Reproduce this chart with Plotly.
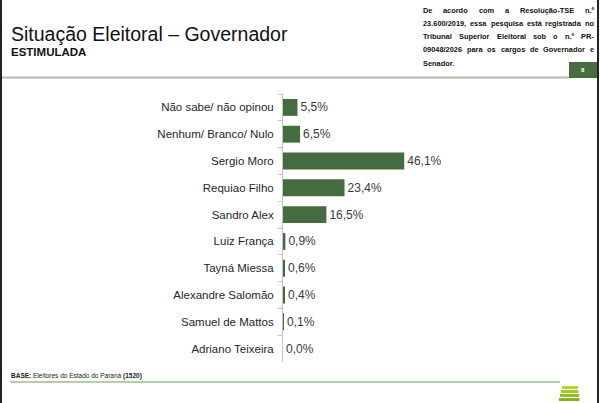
import plotly.graph_objects as go

# dados da pesquisa estimulada
candidatos = ['Não sabe/ não opinou', 'Nenhum/ Branco/ Nulo', 'Sergio Moro',
              'Requiao Filho', 'Sandro Alex', 'Luiz França', 'Tayná Miessa',
              'Alexandre Salomão', 'Samuel de Mattos', 'Adriano Teixeira']
percentuais = [5.5, 6.5, 46.1, 23.4, 16.5, 0.9, 0.6, 0.4, 0.1, 0.0]
rotulos = [f'{v:.1f}%'.replace('.', ',') for v in percentuais]

titulo = 'Situação Eleitoral – Governador'
subtitulo = 'ESTIMULADA'
nota_tse = ['De acordo com a Resolução-TSE n.º',
            '23.600/2019, essa pesquisa está registrada no',
            'Tribunal Superior Eleitoral sob o n.º PR-',
            '09048/2026 para os cargos de Governador e',
            'Senador.']
base = '<b>BASE:</b> Eleitores do Estado do Paraná <b>(1520)</b>'
pagina = '8'

W, H = 600, 403
ML, MR, MT, MB = 283, 100, 94, 41
PW, PH = W - ML - MR, H - MT - MB
FONT = 'Liberation Sans, Arial, sans-serif'
VERDE = '#456b40'

# larguras (1/1000 em) de Arial Bold, para justificar a nota do TSE
LARG = dict(zip('0123456789', [556] * 10))
LARG.update({' ': 278, '.': 278, ',': 278, '/': 278, '-': 333, 'º': 365,
             'a': 556, 'b': 611, 'c': 556, 'd': 611, 'e': 556, 'f': 333, 'g': 611,
             'h': 611, 'i': 278, 'l': 278, 'm': 889, 'n': 611, 'o': 611, 'p': 611,
             'q': 611, 'r': 389, 's': 556, 't': 333, 'u': 611, 'v': 556, 'ç': 556,
             'ã': 556, 'á': 556, 'D': 722, 'E': 667, 'G': 778, 'P': 667, 'R': 722,
             'S': 667, 'T': 611})


def largura(txt, tam):
    return sum(LARG.get(c, 600) for c in txt) * tam / 1000


def px(x):
    return (x - ML) / PW


def py(y):
    return (H - MB - y) / PH


fig = go.Figure(go.Bar(
    x=percentuais,
    y=candidatos,
    orientation='h',
    marker=dict(color=VERDE, line=dict(width=0)),
    text=rotulos,
    textposition='outside',
    textfont=dict(size=12, color='#3a3a3a', family=FONT),
    cliponaxis=False,
    width=0.63,
))

shapes = [
    # bordas laterais
    dict(type='line', x0=px(1), x1=px(1), y0=py(0), y1=py(H), line=dict(color='#222', width=2)),
    dict(type='line', x0=px(598), x1=px(598), y0=py(0), y1=py(H), line=dict(color='#222', width=2)),
    # linha do cabeçalho
    dict(type='line', x0=px(2), x1=px(569), y0=py(77.5), y1=py(77.5), line=dict(color='#b8b8ac', width=2)),
    # caixa do número da página
    dict(type='rect', x0=px(569), x1=px(597), y0=py(62), y1=py(78), fillcolor='#4a6b3f', line=dict(width=0)),
    # linha do rodapé
    dict(type='line', x0=px(10), x1=px(560), y0=py(382), y1=py(382), line=dict(color='#9fbb92', width=1.5)),
]
# logotipo (faixas verdes)
for i, (y0, c) in enumerate([(386, '#b5d334'), (390, '#a4c92b'), (394, '#93bf25'), (398, '#86b320')]):
    shapes.append(dict(type='rect', x0=px(562 - i), x1=px(578 + i * 0.5), y0=py(y0), y1=py(y0 + 3),
                       fillcolor=c, line=dict(width=0)))
for s in shapes:
    s.update(xref='paper', yref='paper', layer='above')

annotations = [
    dict(text=titulo, x=px(9), y=py(34), xanchor='left', yanchor='middle',
         font=dict(size=19.5, color='#111', family=FONT)),
    dict(text=f'<b>{subtitulo}</b>', x=px(9), y=py(52), xanchor='left', yanchor='middle',
         font=dict(size=11.5, color='#111', family=FONT)),
    dict(text=base, x=px(9), y=py(376), xanchor='left', yanchor='middle',
         font=dict(size=6.5, color='#222', family=FONT)),
    dict(text=f'<b>{pagina}</b>', x=px(583), y=py(70), xanchor='center', yanchor='middle',
         font=dict(size=6, color='white', family=FONT)),
]

# nota do TSE justificada: cada palavra posicionada
TAM, X0, X1 = 7.4, 422, 593
for i, linha in enumerate(nota_tse):
    palavras = linha.split(' ')
    ws = [largura(p, TAM) for p in palavras]
    if i < len(nota_tse) - 1 and len(palavras) > 1:
        gap = (X1 - X0 - sum(ws)) / (len(palavras) - 1)
    else:
        gap = largura(' ', TAM)
    x = X0
    for p, w in zip(palavras, ws):
        annotations.append(dict(text=f'<b>{p}</b>', x=px(x - 1), y=py(10 + i * 13.3),
                                xanchor='left', yanchor='middle',
                                font=dict(size=TAM, color='#111', family=FONT)))
        x += w + gap

for a in annotations:
    a.update(xref='paper', yref='paper', showarrow=False)

fig.update_layout(
    width=W, height=H,
    margin=dict(l=ML, r=MR, t=MT, b=MB, pad=0),
    paper_bgcolor='white', plot_bgcolor='white',
    showlegend=False,
    shapes=shapes,
    annotations=annotations,
    xaxis=dict(range=[0, PW / 2.63], visible=False, fixedrange=True),
    yaxis=dict(autorange='reversed', showline=True, linecolor='#c4c4c4', linewidth=1,
               ticks='outside', ticklen=4, tickcolor='#c4c4c4', tickson='boundaries',
               ticklabelstandoff=6, showgrid=False,
               tickfont=dict(size=11.5, color='#262626', family=FONT), fixedrange=True),
)

fig.write_html('out.html', config={'displayModeBar': False},
               post_script="document.body.style.margin='0';document.body.style.overflow='hidden';")
